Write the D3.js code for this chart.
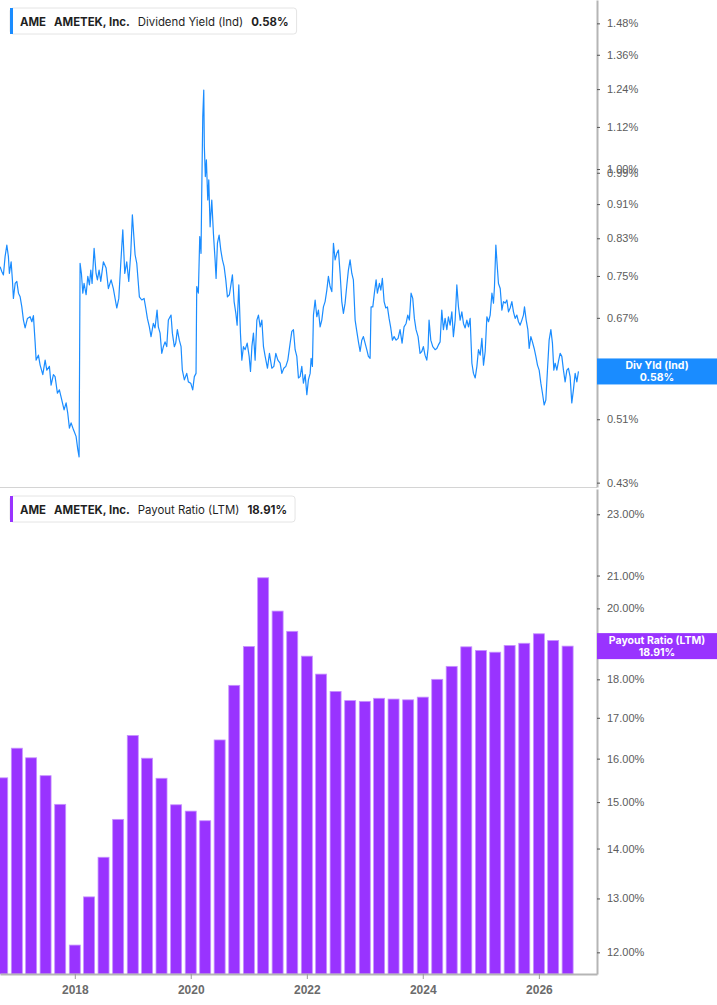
<!DOCTYPE html>
<html>
<head>
<meta charset="utf-8">
<script src="https://cdn.jsdelivr.net/npm/d3@7"></script>
<style>
  body { margin: 0; background: #fff; }
  svg { display: block; font-family: Inter, "Noto Sans", sans-serif; }
</style>
</head>
<body>
<script>
// Dividend yield (Ind), % - time as decimal year
const yieldTime = [
  2016.712,2016.741,2016.769,2016.798,2016.828,2016.855,2016.872,2016.902,2016.924,2016.941,
  2016.971,2017.000,2017.028,2017.057,2017.086,2017.114,2017.143,2017.183,2017.229,2017.259,
  2017.286,2017.315,2017.333,2017.372,2017.402,2017.448,2017.488,2017.517,2017.562,2017.591,
  2017.631,2017.660,2017.700,2017.734,2017.776,2017.815,2017.850,2017.879,2017.907,2017.936,
  2017.976,2018.022,2018.052,2018.074,2018.091,2018.114,2018.138,2018.160,2018.195,2018.224,
  2018.252,2018.276,2018.298,2018.333,2018.367,2018.390,2018.419,2018.448,2018.493,2018.540,
  2018.579,2018.626,2018.665,2018.724,2018.759,2018.793,2018.828,2018.862,2018.896,2018.931,
  2018.965,2018.993,2019.040,2019.069,2019.114,2019.155,2019.195,2019.224,2019.252,2019.286,
  2019.315,2019.355,2019.384,2019.419,2019.441,2019.471,2019.500,2019.528,2019.557,2019.586,
  2019.614,2019.660,2019.683,2019.717,2019.741,2019.769,2019.803,2019.833,2019.855,2019.890,
  2019.931,2019.959,2020.000,2020.034,2020.062,2020.091,2020.103,2020.131,2020.155,2020.177,
  2020.189,2020.207,2020.224,2020.234,2020.251,2020.269,2020.293,2020.310,2020.333,2020.362,
  2020.390,2020.419,2020.436,2020.459,2020.488,2020.517,2020.545,2020.574,2020.603,2020.631,
  2020.665,2020.695,2020.717,2020.746,2020.776,2020.798,2020.827,2020.855,2020.879,2020.907,
  2020.936,2020.971,2021.005,2021.028,2021.052,2021.079,2021.108,2021.138,2021.165,2021.195,
  2021.224,2021.252,2021.281,2021.321,2021.355,2021.396,2021.431,2021.465,2021.500,2021.539,
  2021.569,2021.603,2021.638,2021.672,2021.712,2021.741,2021.769,2021.798,2021.827,2021.855,
  2021.884,2021.913,2021.941,2021.971,2022.000,2022.027,2022.057,2022.074,2022.096,2022.114,
  2022.143,2022.172,2022.200,2022.229,2022.258,2022.286,2022.315,2022.345,2022.372,2022.401,
  2022.431,2022.459,2022.488,2022.517,2022.545,2022.574,2022.603,2022.631,2022.660,2022.690,
  2022.717,2022.746,2022.776,2022.803,2022.833,2022.862,2022.890,2022.919,2022.948,2022.976,
  2023.005,2023.034,2023.062,2023.091,2023.108,2023.138,2023.165,2023.195,2023.217,2023.252,
  2023.276,2023.303,2023.333,2023.362,2023.390,2023.419,2023.448,2023.476,2023.505,2023.540,
  2023.574,2023.608,2023.643,2023.677,2023.712,2023.741,2023.769,2023.798,2023.827,2023.855,
  2023.884,2023.919,2023.953,2023.983,2024.010,2024.039,2024.069,2024.091,2024.108,2024.138,
  2024.172,2024.212,2024.241,2024.269,2024.298,2024.327,2024.355,2024.384,2024.414,2024.441,
  2024.470,2024.500,2024.527,2024.557,2024.586,2024.614,2024.643,2024.672,2024.700,2024.729,
  2024.758,2024.786,2024.815,2024.845,2024.872,2024.902,2024.931,2024.958,2024.988,2025.017,
  2025.045,2025.074,2025.103,2025.131,2025.160,2025.190,2025.217,2025.234,2025.258,2025.281,
  2025.303,2025.333,2025.362,2025.390,2025.419,2025.448,2025.476,2025.505,2025.534,2025.562,
  2025.591,2025.620,2025.648,2025.677,2025.707,2025.734,2025.752,2025.781,2025.810,2025.833,
  2025.862,2025.889,2025.919,2025.948,2025.976,2026.005,2026.034,2026.062,2026.091,2026.120,
  2026.148,2026.177,2026.207,2026.234,2026.258,2026.281,2026.310,2026.338,2026.367,2026.396,
  2026.424,2026.453,2026.483,2026.510,2026.539,2026.568,2026.596,2026.626,2026.655,2026.683
];
const yieldValue = [
  0.769,0.759,0.752,0.790,0.815,0.790,0.755,0.779,0.742,0.706,
  0.735,0.739,0.716,0.709,0.690,0.666,0.652,0.669,0.672,0.663,
  0.674,0.628,0.598,0.606,0.590,0.575,0.598,0.582,0.588,0.559,
  0.575,0.572,0.547,0.552,0.537,0.523,0.533,0.518,0.498,0.505,
  0.496,0.487,0.470,0.461,0.776,0.755,0.716,0.735,0.713,0.749,
  0.732,0.762,0.735,0.808,0.755,0.742,0.762,0.739,0.779,0.766,
  0.725,0.742,0.725,0.688,0.706,0.776,0.849,0.755,0.779,0.739,
  0.797,0.884,0.794,0.776,0.709,0.703,0.706,0.688,0.669,0.654,
  0.637,0.660,0.652,0.684,0.654,0.643,0.609,0.620,0.628,0.620,
  0.666,0.675,0.643,0.620,0.626,0.649,0.631,0.620,0.582,0.567,
  0.577,0.564,0.562,0.552,0.572,0.577,0.729,0.716,0.834,0.797,
  0.937,1.151,1.237,1.062,0.980,1.025,0.920,0.971,0.856,0.920,
  0.841,0.783,0.745,0.819,0.837,0.804,0.783,0.769,0.742,0.709,
  0.713,0.735,0.752,0.700,0.678,0.657,0.732,0.643,0.598,0.620,
  0.615,0.626,0.604,0.580,0.620,0.643,0.598,0.666,0.675,0.654,
  0.666,0.620,0.604,0.585,0.609,0.585,0.588,0.609,0.598,0.593,
  0.577,0.585,0.588,0.598,0.626,0.646,0.649,0.615,0.604,0.570,
  0.572,0.588,0.562,0.575,0.545,0.567,0.577,0.601,0.588,0.675,
  0.703,0.672,0.684,0.654,0.666,0.690,0.700,0.722,0.749,0.729,
  0.719,0.819,0.783,0.797,0.804,0.755,0.700,0.678,0.697,0.732,
  0.762,0.783,0.755,0.742,0.666,0.646,0.628,0.612,0.631,0.637,
  0.626,0.615,0.604,0.601,0.690,0.690,0.716,0.742,0.716,0.735,
  0.722,0.745,0.700,0.688,0.690,0.669,0.652,0.631,0.637,0.631,
  0.634,0.649,0.626,0.654,0.660,0.675,0.666,0.716,0.706,0.669,
  0.649,0.637,0.609,0.612,0.620,0.606,0.598,0.617,0.666,0.631,
  0.620,0.615,0.617,0.623,0.628,0.684,0.649,0.669,0.649,0.672,
  0.657,0.681,0.637,0.666,0.732,0.690,0.666,0.681,0.660,0.652,
  0.666,0.654,0.669,0.593,0.577,0.570,0.588,0.615,0.606,0.634,
  0.590,0.612,0.672,0.663,0.675,0.716,0.697,0.729,0.815,0.772,
  0.735,0.725,0.684,0.700,0.697,0.703,0.681,0.688,0.700,0.681,
  0.669,0.675,0.663,0.657,0.666,0.675,0.690,0.666,0.649,0.617,
  0.637,0.628,0.617,0.604,0.590,0.582,0.562,0.547,0.530,0.537,
  0.582,0.631,0.649,0.626,0.582,0.593,0.582,0.596,0.609,0.604,
  0.582,0.564,0.582,0.585,0.572,0.533,0.552,0.577,0.564,0.580
];

// Payout ratio (LTM), % - quarterly
const quarterDates = [
  "2016-10-01","2017-01-01","2017-04-01","2017-07-01","2017-10-01",
  "2018-01-01","2018-04-01","2018-07-01","2018-10-01","2019-01-01",
  "2019-04-01","2019-07-01","2019-10-01","2020-01-01","2020-04-01",
  "2020-07-01","2020-10-01","2021-01-01","2021-04-01","2021-07-01",
  "2021-10-01","2022-01-01","2022-04-01","2022-07-01","2022-10-01",
  "2023-01-01","2023-04-01","2023-07-01","2023-10-01","2024-01-01",
  "2024-04-01","2024-07-01","2024-10-01","2025-01-01","2025-04-01",
  "2025-07-01","2025-10-01","2026-01-01","2026-04-01","2026-07-01"
];
const payoutValues = [
  15.55,16.25,16.02,15.60,14.95,12.13,13.03,13.82,14.62,16.56,
  16.01,15.54,14.94,14.80,14.59,16.45,17.84,18.90,20.93,19.92,
  19.33,18.63,18.14,17.68,17.44,17.42,17.50,17.48,17.46,17.53,
  18.00,18.35,18.89,18.79,18.74,18.93,18.99,19.26,19.07,18.91
];

// Tick labels
const yieldTicks = [0.43, 0.51, 0.59, 0.67, 0.75, 0.83, 0.91, 0.99, 1.00, 1.12, 1.24, 1.36, 1.48];
const payoutTicks = [12, 13, 14, 15, 16, 17, 18, 19, 20, 21, 23];
const yearTicks = ["2018", "2020", "2022", "2024", "2026"];

const width = 717;
const height = 1005;
const plotRight = 597;
const topBottom = 487;
const lowTop = 489;
const lowBottom = 974;
const blue = "#1a8cff";
const purple = "#9933ff";

const parseDate = d3.timeParse("%Y-%m-%d");
const parseYear = d3.timeParse("%Y");

// decimal year -> Date
function fromDecimalYear(t) {
  const y = Math.floor(t);
  const start = new Date(y, 0, 1);
  const end = new Date(y + 1, 0, 1);
  return new Date(start.getTime() + (t - y) * (end - start));
}

const yieldData = yieldTime.map((t, i) => ({ date: fromDecimalYear(t), value: yieldValue[i] }));
const payoutData = quarterDates.map((d, i) => ({ date: parseDate(d), value: payoutValues[i] }));

//Scales
const xScale = d3.scaleTime()
  .domain([new Date(2016, 8, 17), new Date(2027, 0, 2)])
  .range([0, plotRight]);

const yieldScale = d3.scaleLog()
  .domain([0.425, 1.576])
  .range([topBottom, 0]);

const payoutScale = d3.scaleLog()
  .domain([11.62, 23.88])
  .range([lowBottom, lowTop]);

//SVG
const svg = d3.select("body")
  .append("svg")
  .attr("width", width)
  .attr("height", height);

svg.append("clipPath").attr("id", "topClip")
  .append("rect").attr("x", 0).attr("y", 0).attr("width", plotRight).attr("height", topBottom);

//Dividend yield line
const line = d3.line()
  .x(d => xScale(d.date))
  .y(d => yieldScale(d.value));

svg.append("path")
  .datum(yieldData)
  .attr("clip-path", "url(#topClip)")
  .attr("d", line)
  .attr("fill", "none")
  .attr("stroke", blue)
  .attr("stroke-width", 1.2)
  .attr("stroke-linejoin", "round");

//Panel divider
svg.append("line")
  .attr("x1", 0).attr("x2", plotRight)
  .attr("y1", topBottom + 0.5).attr("y2", topBottom + 0.5)
  .attr("stroke", "#d4d4d4");

//Payout bars
const barWidth = 11;
svg.append("g")
  .selectAll("rect")
  .data(payoutData)
  .join("rect")
  .attr("x", d => xScale(d.date) - barWidth / 2)
  .attr("y", d => payoutScale(d.value))
  .attr("width", barWidth)
  .attr("height", d => lowBottom - payoutScale(d.value))
  .attr("fill", purple)
  .attr("stroke", "#c792ff")
  .attr("stroke-width", 0.8);

//Right axes
function styleAxis(g) {
  g.select(".domain").attr("stroke", "#b5b5b5").attr("stroke-width", 2);
  g.selectAll(".tick line").attr("stroke", "#555");
  g.selectAll(".tick text")
    .attr("fill", "#5c5c5c")
    .style("font-size", "11px");
}

svg.append("g")
  .attr("transform", "translate(" + plotRight + ",0)")
  .call(d3.axisRight(yieldScale)
    .tickValues(yieldTicks)
    .tickFormat(d => d.toFixed(2) + "%")
    .tickSize(3)
    .tickSizeOuter(0)
    .tickPadding(7))
  .call(styleAxis);

svg.append("g")
  .attr("transform", "translate(" + plotRight + ",0)")
  .call(d3.axisRight(payoutScale)
    .tickValues(payoutTicks)
    .tickFormat(d => d.toFixed(2) + "%")
    .tickSize(3)
    .tickSizeOuter(0)
    .tickPadding(7))
  .call(styleAxis);

//Bottom axis
svg.append("g")
  .attr("transform", "translate(0," + lowBottom + ")")
  .call(d3.axisBottom(xScale)
    .tickValues(yearTicks.map(parseYear))
    .tickFormat(d3.timeFormat("%Y"))
    .tickSize(5)
    .tickSizeOuter(0)
    .tickPadding(6))
  .call(g => {
    g.select(".domain").attr("stroke", "#b5b5b5").attr("stroke-width", 2);
    g.selectAll(".tick line").attr("stroke", "#999");
    g.selectAll(".tick text")
      .attr("fill", "#6b6b6b")
      .style("font-size", "12px")
      .style("font-weight", "700");
  });

//Legend boxes
function legend(y, color, parts) {
  const g = svg.append("g");
  const box = g.append("rect")
    .attr("x", 10).attr("y", y)
    .attr("height", 26).attr("rx", 3)
    .attr("fill", "#fff")
    .attr("stroke", "#e4e4e4");
  g.append("rect")
    .attr("x", 10).attr("y", y)
    .attr("width", 3).attr("height", 26)
    .attr("fill", color);
  let x = 20;
  parts.forEach(p => {
    const t = g.append("text")
      .attr("x", x).attr("y", y + 17.5)
      .attr("fill", "#1f1f1f")
      .style("font-size", "11.4px")
      .style("font-weight", p.bold ? 700 : 400)
      .text(p.text);
    x += t.node().getComputedTextLength() + 8;
  });
  box.attr("width", x - 10);
}

legend(8, blue, [
  { text: "AME", bold: true },
  { text: "AMETEK, Inc.", bold: true },
  { text: "Dividend Yield (Ind)", bold: false },
  { text: "0.58%", bold: true }
]);

legend(496, purple, [
  { text: "AME", bold: true },
  { text: "AMETEK, Inc.", bold: true },
  { text: "Payout Ratio (LTM)", bold: false },
  { text: "18.91%", bold: true }
]);

//Last value labels on the right axis
function lastLabel(cy, color, title, value) {
  const g = svg.append("g");
  g.append("rect")
    .attr("x", plotRight).attr("y", cy - 13)
    .attr("width", width - plotRight).attr("height", 26)
    .attr("fill", color);
  g.append("text")
    .attr("x", 657).attr("y", cy - 2)
    .attr("text-anchor", "middle")
    .attr("fill", "#fff")
    .style("font-size", "10.5px")
    .style("font-weight", 700)
    .text(title);
  g.append("text")
    .attr("x", 657).attr("y", cy + 9.5)
    .attr("text-anchor", "middle")
    .attr("fill", "#fff")
    .style("font-size", "10.5px")
    .style("font-weight", 700)
    .text(value);
}

const lastYield = yieldData[yieldData.length - 1].value;
const lastPayout = payoutData[payoutData.length - 1].value;
lastLabel(yieldScale(lastYield), blue, "Div Yld (Ind)", lastYield.toFixed(2) + "%");
lastLabel(payoutScale(lastPayout), purple, "Payout Ratio (LTM)", lastPayout.toFixed(2) + "%");
</script>
</body>
</html>
